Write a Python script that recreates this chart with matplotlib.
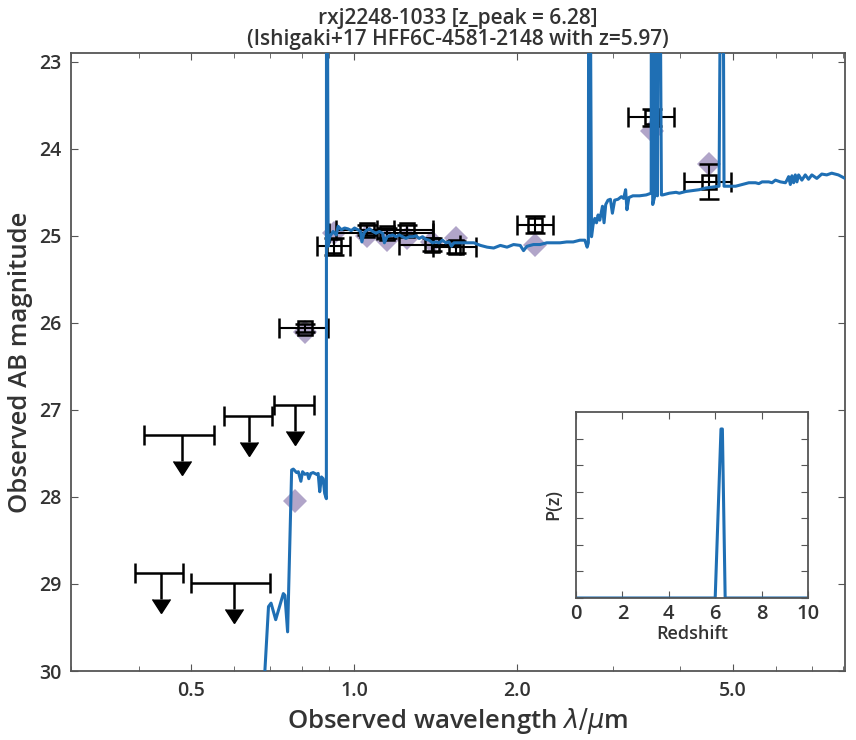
import numpy as np
import matplotlib
matplotlib.use('Agg')
import matplotlib.pyplot as plt
import matplotlib.lines as mlines
from matplotlib.ticker import NullFormatter, FixedLocator

plt.rcParams['font.family'] = ['Open Sans', 'DejaVu Sans']
plt.rcParams['mathtext.fontset'] = 'dejavusans'

# Best-fit template (observed wavelength in micron, AB mag); 20.0 = emission line off the top
sed_wave = [0.6837, 0.6946, 0.7022, 0.7162, 0.7398, 0.7448, 0.7534, 0.7664, 0.7719, 0.7827,
            0.7884, 0.7971, 0.8028, 0.8106, 0.8198, 0.8244, 0.8314, 0.8398, 0.8517, 0.8579,
            0.8636, 0.8699, 0.8762, 0.8821, 0.8883, 0.8890, 0.8905, 0.8950, 0.9010, 0.9140,
            0.9267, 0.9335, 0.9465, 0.9599, 0.9737, 0.9874, 1.0013, 1.0158, 1.0270, 1.0331,
            1.0418, 1.0520, 1.0668, 1.0822, 1.0972, 1.1127, 1.1290, 1.1367, 1.1496, 1.1608,
            1.1777, 1.1943, 1.2110, 1.2286, 1.2458, 1.2633, 1.2815, 1.2996, 1.3178, 1.3370,
            1.3557, 1.3749, 1.3947, 1.4144, 1.4341, 1.4551, 1.4755, 1.4963, 1.5115, 1.5277,
            1.5715, 1.6167, 1.6625, 1.7100, 1.7592, 1.8088, 1.8608, 1.9143, 1.9683, 2.0249,
            2.0535, 2.0831, 2.1419, 2.2034, 2.2667, 2.3309, 2.3979, 2.4668, 2.5365, 2.6093,
            2.6651, 2.6911, 2.7050, 2.7100, 2.7180, 2.7416, 2.7601, 2.7797, 2.8003, 2.8191,
            2.8394, 2.8722, 2.8915, 2.9122, 2.9405, 2.9705, 2.9959, 3.0251, 3.0679, 3.1121,
            3.1424, 3.1692, 3.1868, 3.2137, 3.2683, 3.3623, 3.4588, 3.5328, 3.5370, 3.5410,
            3.5560, 3.5850, 3.6000, 3.6120, 3.6280, 3.6420, 3.6550, 3.6900, 3.7103, 3.8168,
            3.9264, 3.9811, 4.0954, 4.2110, 4.3320, 4.4564, 4.5822, 4.7140, 4.7650, 4.7850,
            4.8148, 4.9168, 5.0582, 5.2013, 5.3506, 5.5042, 5.5823, 5.6603, 5.8227, 5.9052,
            5.9902, 6.1184, 6.2494, 6.2913, 6.3363, 6.3826, 6.4256, 6.4717, 6.5182, 6.5635,
            6.6105, 6.7028, 6.8005, 6.8953, 6.9929, 7.1425, 7.2946, 7.4492, 7.6088, 7.8277,
            8.0520, 8.3000]
sed_mag = [30.02, 29.26, 29.22, 29.41, 29.11, 29.13, 29.55, 27.69, 27.68, 27.72,
           27.71, 27.82, 27.71, 27.74, 27.73, 27.79, 27.73, 27.72, 27.74, 27.73,
           27.94, 27.77, 27.79, 27.96, 28.02, 20.00, 20.00, 25.12, 25.01, 24.95,
           24.99, 24.89, 24.93, 24.91, 24.92, 24.94, 24.91, 24.93, 24.95, 25.07,
           24.97, 24.94, 24.92, 24.95, 24.97, 24.95, 24.97, 25.08, 25.01, 25.00,
           24.99, 25.01, 24.99, 25.01, 25.03, 25.01, 25.01, 25.00, 25.03, 25.01,
           25.04, 25.05, 25.08, 25.07, 25.08, 25.05, 25.08, 25.07, 25.12, 25.08,
           25.08, 25.08, 25.08, 25.11, 25.13, 25.14, 25.11, 25.13, 25.10, 25.11,
           25.17, 25.12, 25.10, 25.10, 25.08, 25.08, 25.08, 25.07, 25.07, 25.05,
           25.05, 25.13, 25.08, 20.00, 20.00, 25.01, 24.87, 24.80, 24.85, 24.76,
           24.82, 24.66, 24.85, 24.64, 24.59, 24.58, 24.74, 24.59, 24.58, 24.55,
           24.57, 24.47, 24.70, 24.56, 24.54, 24.54, 24.53, 24.51, 20.00, 20.00,
           24.64, 24.55, 20.00, 20.00, 24.54, 20.00, 20.00, 24.53, 24.53, 24.51,
           24.50, 24.51, 24.49, 24.48, 24.47, 24.45, 24.44, 24.43, 20.00, 20.00,
           24.43, 24.43, 24.43, 24.41, 24.39, 24.39, 24.40, 24.38, 24.38, 24.39,
           24.36, 24.38, 24.39, 24.36, 24.32, 24.41, 24.31, 24.39, 24.30, 24.38,
           24.30, 24.36, 24.30, 24.35, 24.30, 24.34, 24.29, 24.30, 24.28, 24.30,
           24.34, 24.36]

# Detections (F814W, F850LP, F105W, F110W, F125W, F140W, F160W, Ks, IRAC1, IRAC2)
obs_wave = [0.810, 0.917, 1.055, 1.150, 1.250, 1.390, 1.540, 2.160, 3.550, 4.520]
obs_dwave = [0.085, 0.064, 0.130, 0.250, 0.150, 0.180, 0.140, 0.165, 0.350, 0.450]
obs_mag = [26.06, 25.12, 24.93, 24.97, 24.93, 25.10, 25.13, 24.87, 23.64, 24.38]
obs_err = [0.05, 0.10, 0.06, 0.06, 0.06, 0.07, 0.07, 0.10, 0.10, 0.20]

# Non-detections (F435W, F475W, F606W, F625W, F775W)
lim_wave = [0.439, 0.480, 0.600, 0.640, 0.776]
lim_dwave = [0.045, 0.070, 0.100, 0.066, 0.066]
lim_mag = [28.87, 27.29, 28.99, 27.07, 26.94]

# Model photometry in the same bands
mod_wave = [0.776, 0.810, 0.917, 1.055, 1.150, 1.250, 1.390, 1.540, 2.160, 3.550, 4.520]
mod_mag = [28.05, 26.10, 24.97, 25.00, 25.05, 25.03, 25.07, 25.03, 25.10, 23.80, 24.17]

# Redshift probability
pz_z = [0.0, 6.00, 6.25, 6.31, 6.43, 10.0]
pz_p = [0.0, 0.0, 3.18, 3.18, 0.0, 0.0]

text_c = '#333333'
line_c = '#1f6fb4'

fig = plt.figure(figsize=(8.56, 7.4), dpi=100)
ax = fig.add_axes([0.0829, 0.0932, 0.9042, 0.8351])

ax.plot(mod_wave, mod_mag, 'D', color='#b1a5c9', ms=12, mew=0, zorder=1)
ax.errorbar(obs_wave, obs_mag, xerr=obs_dwave, yerr=obs_err, fmt='s', ms=10,
            mfc='none', mec='k', mew=1.8, ecolor='k', elinewidth=1.5,
            capsize=7, capthick=1.5, zorder=2)
ax.errorbar(lim_wave, lim_mag, xerr=lim_dwave, fmt='none', ecolor='k',
            elinewidth=1.8, capsize=7, capthick=1.8, zorder=2)
ax.vlines(lim_wave, lim_mag, np.array(lim_mag) + 0.3, color='k', lw=1.8, zorder=2)
ax.plot(lim_wave, np.array(lim_mag) + 0.3, ls='none', marker=mlines.CARETDOWNBASE,
        color='k', ms=13, zorder=2)
ax.plot(sed_wave, sed_mag, color=line_c, lw=2.2, zorder=3)

ax.set_xscale('log')
ax.set_xlim(0.3, 8.05)
ax.set_ylim(30, 22.9)
ax.xaxis.set_major_locator(FixedLocator([0.5, 1.0, 2.0, 5.0]))
ax.set_xticklabels(['0.5', '1.0', '2.0', '5.0'])
ax.xaxis.set_minor_formatter(NullFormatter())
ax.set_yticks(range(23, 31))
ax.tick_params(which='both', direction='in', top=True, right=True,
               color='#555555', labelsize=14, labelcolor=text_c, pad=7)
ax.tick_params(which='major', length=5)
ax.tick_params(which='minor', length=3.5)
for lab in ax.get_xticklabels() + ax.get_yticklabels():
    lab.set_fontweight('semibold')
for s in ax.spines.values():
    s.set_color('#555555')
    s.set_linewidth(1.3)

ax.set_xlabel(r'Observed wavelength $\lambda/\mu$m', fontsize=18.5, color=text_c,
              fontweight='semibold')
ax.set_ylabel('Observed AB magnitude', fontsize=18.5, color=text_c,
              fontweight='semibold')
ax.set_title('rxj2248-1033 [z_peak = 6.28]\n(Ishigaki+17 HFF6C-4581-2148 with z=5.97)',
             fontsize=15, color=text_c, fontweight='semibold', linespacing=1.0, pad=6)

# P(z) inset
axp = fig.add_axes([0.6729, 0.1919, 0.2710, 0.2514])
axp.plot(pz_z, pz_p, color=line_c, lw=2.2)
axp.set_xlim(0, 10)
axp.set_ylim(0, 3.5)
axp.set_xticks([0, 2, 4, 6, 8, 10])
axp.set_yticks(np.arange(0, 3.5, 0.5))
axp.set_yticklabels([])
axp.tick_params(which='both', direction='in', top=True, right=True, length=5,
                color='#555555', labelsize=14.5, labelcolor=text_c, pad=4)
for lab in axp.get_xticklabels():
    lab.set_fontweight('semibold')
for s in axp.spines.values():
    s.set_color('#555555')
    s.set_linewidth(1.3)
axp.set_xlabel('Redshift', fontsize=13, color=text_c, labelpad=1, fontweight='semibold')
axp.set_ylabel('P(z)', fontsize=13, color=text_c, labelpad=6, fontweight='semibold')

fig.savefig('out.png', dpi=100)
